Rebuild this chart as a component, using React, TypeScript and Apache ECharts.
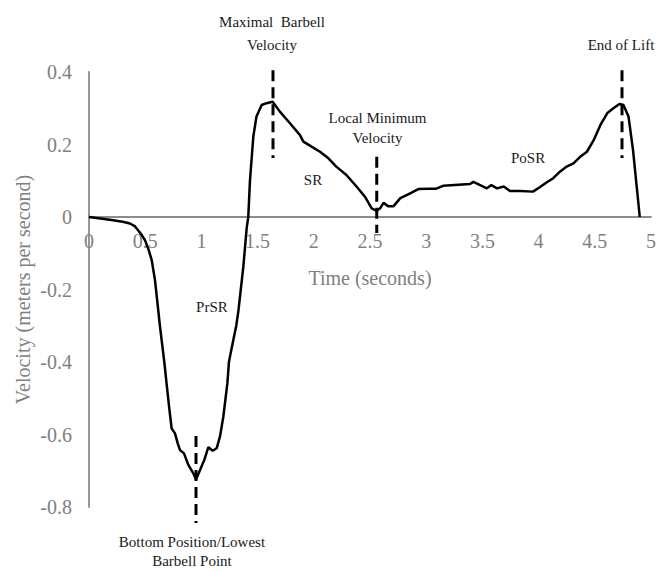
import React, { useEffect, useRef } from "react";
import * as echarts from "echarts";

const timeValues = [
  0, 0.1, 0.2, 0.3, 0.365, 0.41, 0.44, 0.47, 0.5, 0.53, 0.558, 0.587, 0.61, 0.632, 0.646, 0.67, 0.69, 0.715,
  0.735, 0.765, 0.79, 0.81, 0.845, 0.884, 0.928, 0.952, 0.988, 1.026, 1.062, 1.1, 1.136, 1.165, 1.195, 1.231,
  1.245, 1.26, 1.284, 1.31, 1.33, 1.373, 1.403, 1.417, 1.432, 1.462, 1.49, 1.536, 1.58, 1.634, 1.7, 1.79,
  1.877, 1.907, 1.98, 2.055, 2.13, 2.2, 2.29, 2.38, 2.455, 2.515, 2.56, 2.59, 2.62, 2.66, 2.71, 2.77, 2.83,
  2.87, 2.93, 3.03, 3.09, 3.15, 3.39, 3.42, 3.48, 3.54, 3.58, 3.63, 3.69, 3.745, 3.835, 3.95, 4.01, 4.07,
  4.13, 4.19, 4.25, 4.31, 4.37, 4.43, 4.49, 4.55, 4.61, 4.665, 4.72, 4.755, 4.8, 4.84, 4.87, 4.9,
];

const velocityValues = [
  0, -0.004, -0.008, -0.013, -0.018, -0.026, -0.038, -0.05, -0.065, -0.09, -0.119, -0.174, -0.24, -0.303,
  -0.339, -0.4, -0.459, -0.53, -0.583, -0.597, -0.625, -0.643, -0.652, -0.684, -0.707, -0.724, -0.698, -0.67,
  -0.635, -0.645, -0.638, -0.606, -0.551, -0.459, -0.4, -0.376, -0.339, -0.3, -0.257, -0.137, -0.03, 0.0,
  0.1, 0.222, 0.277, 0.309, 0.314, 0.318, 0.29, 0.258, 0.226, 0.208, 0.194, 0.18, 0.162, 0.139, 0.116, 0.084,
  0.056, 0.024, 0.017, 0.024, 0.039, 0.03, 0.03, 0.052, 0.061, 0.067, 0.077, 0.078, 0.078, 0.086, 0.091,
  0.097, 0.088, 0.079, 0.088, 0.079, 0.084, 0.072, 0.072, 0.07, 0.082, 0.095, 0.107, 0.125, 0.139, 0.148,
  0.166, 0.18, 0.212, 0.254, 0.286, 0.3, 0.312, 0.309, 0.277, 0.185, 0.093, 0,
];

// dashed event markers
const markerTimes = [0.952, 1.637, 2.56, 4.742];
const markerTops = [-0.604, 0.405, 0.166, 0.405];
const markerBottoms = [-0.844, 0.163, -0.044, 0.163];

// annotation texts
const annotationTexts = [
  "Maximal  Barbell\nVelocity",
  "Local Minimum\nVelocity",
  "End of Lift",
  "SR",
  "PoSR",
  "PrSR",
  "Bottom Position/Lowest\nBarbell Point",
];
const annotationTimes = [1.628, 2.567, 4.733, 1.993, 3.906, 1.094, 0.916];
const annotationVelocities = [0.506, 0.2455, 0.4745, 0.102, 0.163, -0.248, -0.924];
const annotationLineHeights = [23, 20, 18, 18, 18, 18, 19];

const FONT = "'Liberation Serif', 'Times New Roman', serif";

export default function App() {
  const ref = useRef<HTMLDivElement>(null);

  useEffect(() => {
    if (!ref.current) return;
    const chart = echarts.init(ref.current, undefined, { renderer: "svg" });

    const seriesData = timeValues.map((t, i) => [t, velocityValues[i]]);

    chart.setOption({
      animation: false,
      backgroundColor: "#ffffff",
      grid: { left: 89, right: 5, top: 72, bottom: 65, containLabel: false, outerBoundsMode: "none" },
      xAxis: {
        type: "value",
        position: "bottom",
        offset: -290,
        min: 0,
        max: 5,
        interval: 0.5,
        name: "Time (seconds)",
        nameLocation: "middle",
        nameGap: 51,
        nameTextStyle: { fontFamily: FONT, fontSize: 20, color: "#808080" },
        axisLine: { onZero: false, lineStyle: { color: "#8c8c8c", width: 1.8 } },
        axisTick: { show: false },
        splitLine: { show: false },
        axisLabel: { fontFamily: FONT, fontSize: 20, color: "#808080", margin: 14 },
      },
      yAxis: {
        type: "value",
        min: -0.8,
        max: 0.4,
        interval: 0.2,
        name: "Velocity (meters per second)",
        nameLocation: "middle",
        nameGap: 56,
        nameMoveOverlap: false,
        nameRotate: 90,
        nameTextStyle: { fontFamily: FONT, fontSize: 20, color: "#808080" },
        axisLine: { show: true, onZero: false, lineStyle: { color: "#8c8c8c", width: 1.8 } },
        axisTick: { show: false },
        splitLine: { show: false },
        axisLabel: {
          fontFamily: FONT,
          fontSize: 20,
          color: "#808080",
          margin: 17,
          formatter: (v: number) => String(Math.round(v * 10) / 10),
        },
      },
      series: [
        {
          type: "line",
          data: seriesData,
          showSymbol: false,
          clip: false,
          lineStyle: { color: "#000000", width: 2.5 },
        },
      ],
    });

    const px = (t: number, v: number) => chart.convertToPixel({ gridIndex: 0 }, [t, v]) as number[];

    const markerGraphics = markerTimes.map((t, i) => {
      const a = px(t, markerTops[i]);
      const b = px(t, markerBottoms[i]);
      return {
        type: "line",
        silent: true,
        shape: { x1: a[0], y1: a[1], x2: b[0], y2: b[1] },
        style: { stroke: "#000000", lineWidth: 3, lineDash: [11, 6] },
        z: 10,
      };
    });

    const textGraphics = annotationTexts.map((txt, i) => {
      const p = px(annotationTimes[i], annotationVelocities[i]);
      return {
        type: "text",
        silent: true,
        x: p[0],
        y: p[1],
        style: {
          text: txt,
          fontFamily: FONT,
          fontSize: 15,
          fill: "#1a1a1a",
          align: "center",
          verticalAlign: "middle",
          lineHeight: annotationLineHeights[i],
        },
        z: 10,
      };
    });

    chart.setOption({ graphic: [...markerGraphics, ...textGraphics] });

    return () => chart.dispose();
  }, []);

  return (
    <div
      ref={ref}
      style={{ position: "fixed", left: 0, top: 0, width: 656, height: 572, background: "#fff" }}
    />
  );
}
